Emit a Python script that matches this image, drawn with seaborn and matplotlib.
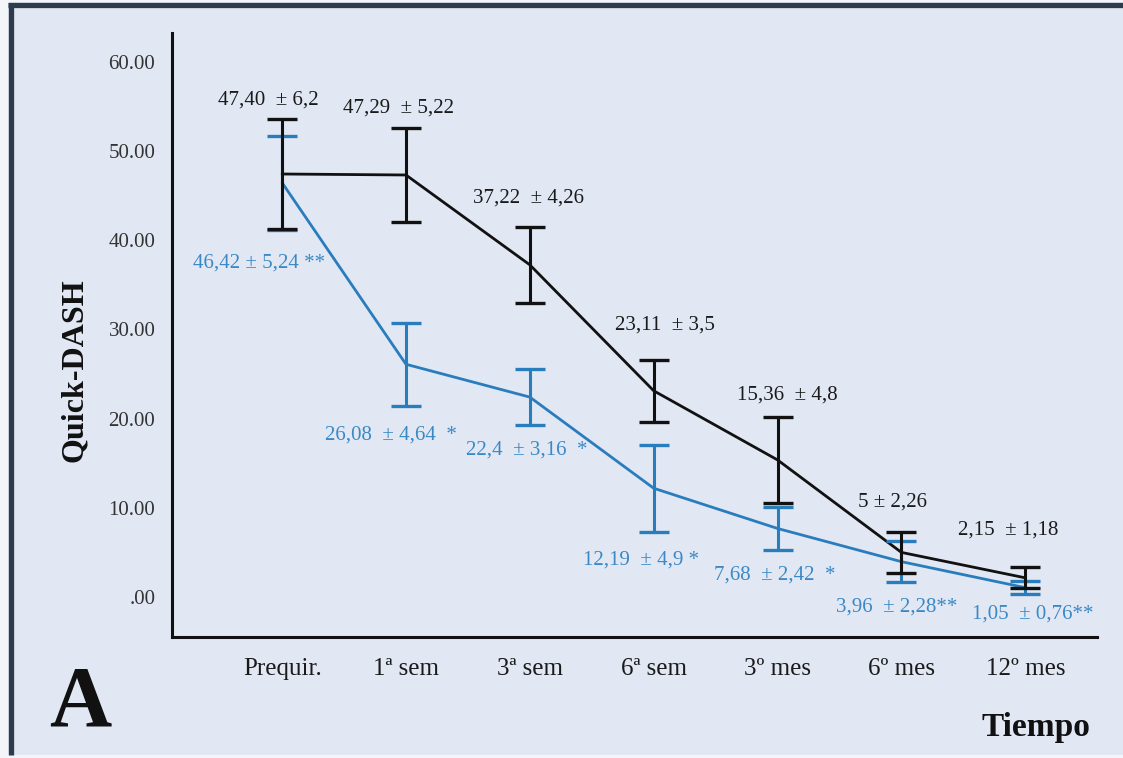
import numpy as np
import pandas as pd
import matplotlib
matplotlib.use("Agg")
import matplotlib.pyplot as plt
import seaborn as sns
from matplotlib.lines import Line2D
from matplotlib.patches import Rectangle

# ---- data ----
categories = ["Prequir.", "1ª sem", "3ª sem", "6ª sem", "3º mes", "6º mes", "12º mes"]
black_mean = [47.40, 47.29, 37.22, 23.11, 15.36, 5.00, 2.15]
black_sd = [6.2, 5.22, 4.26, 3.5, 4.8, 2.26, 1.18]
blue_mean = [46.42, 26.08, 22.4, 12.19, 7.68, 3.96, 1.05]
blue_sd = [5.24, 4.64, 3.16, 4.9, 2.42, 2.28, 0.76]
black_labels = ["47,40  ± 6,2", "47,29  ± 5,22", "37,22  ± 4,26", "23,11  ± 3,5",
                "15,36  ± 4,8", "5 ± 2,26", "2,15  ± 1,18"]
blue_labels = ["46,42 ± 5,24 **", "26,08  ± 4,64  *", "22,4  ± 3,16  *", "12,19  ± 4,9 *",
               "7,68  ± 2,42  *", "3,96  ± 2,28**", "1,05  ± 0,76**"]
y_ticks = [0, 10, 20, 30, 40, 50, 60]
y_ticklabels = [".00", "10.00", "20.00", "30.00", "40.00", "50.00", "60.00"]

# label offsets (pixels) relative to the error-bar caps
black_off = [(-14, 19), (-7, 20), (-1, 29), (11, 34), (10, 22), (-9, 30), (-17, 37)]
blue_off = [(-23, -34), (-15, -29), (-3, -25), (-13, -28), (-3, -25), (-5, -25), (7, -20)]

BG = "#E1E7F3"
OUTER = "#F3F5F9"
FRAME = "#2E3B4B"
BLACK = "#111111"
BLUE = "#2A7DBD"
BLUE_TXT = "#3A89C6"

sns.set_style("white")
plt.rcParams["font.family"] = ["Liberation Serif", "DejaVu Serif"]

W, H = 1123, 758
fig = plt.figure(figsize=(W / 100, H / 100), dpi=100, facecolor=OUTER)

# panel background and frame
fig.add_artist(Rectangle((8 / W, 3 / H), 1 - 8 / W, 1 - 5 / H, transform=fig.transFigure,
                         facecolor=BG, edgecolor="none", zorder=0))
fig.add_artist(Line2D([8 / W, 1], [1 - 4.5 / H, 1 - 4.5 / H], transform=fig.transFigure,
                      color=FRAME, linewidth=3.8, solid_capstyle="butt"))
fig.add_artist(Line2D([10.5 / W, 10.5 / W], [3 / H, 1 - 2.5 / H], transform=fig.transFigure,
                      color=FRAME, linewidth=3.8, solid_capstyle="butt"))

ax = fig.add_axes([172 / W, 1 - 637 / H, (1097 - 172) / W, (637 - 33) / H])
ax.set_facecolor("none")

pos = np.arange(len(categories))
df = pd.DataFrame({
    "x": np.concatenate([pos, pos]),
    "y": blue_mean + black_mean,
    "grupo": ["blue"] * len(pos) + ["black"] * len(pos),
})
sns.lineplot(data=df, x="x", y="y", hue="grupo", hue_order=["blue", "black"],
             palette={"blue": BLUE, "black": BLACK}, linewidth=2.0, legend=False, ax=ax,
             estimator=None, sort=False)

ax.errorbar(pos, blue_mean, yerr=blue_sd, fmt="none", ecolor=BLUE, elinewidth=2.2,
            capsize=10.5, capthick=2.4, zorder=3)
ax.errorbar(pos, black_mean, yerr=black_sd, fmt="none", ecolor=BLACK, elinewidth=2.2,
            capsize=10.5, capthick=2.4, zorder=4)

for i in range(len(pos)):
    ax.annotate(black_labels[i], xy=(pos[i], black_mean[i] + black_sd[i]),
                xytext=black_off[i], textcoords="offset pixels", ha="center", va="center",
                fontsize=15, color="#1a1a1a")
    ax.annotate(blue_labels[i], xy=(pos[i], blue_mean[i] - blue_sd[i]),
                xytext=blue_off[i], textcoords="offset pixels", ha="center", va="center",
                fontsize=15, color=BLUE_TXT)

ax.set_xlim(-0.889, 6.579)
ax.set_ylim(-4.48, 63.2)
ax.set_xticks(pos)
ax.set_xticklabels(categories, fontsize=18)
ax.set_yticks(y_ticks)
ax.set_yticklabels(y_ticklabels, fontsize=15)
ax.set_xlabel("")
ax.set_ylabel("")
for s in ["top", "right"]:
    ax.spines[s].set_visible(False)
for s in ["left", "bottom"]:
    ax.spines[s].set_linewidth(2.2)
    ax.spines[s].set_color(BLACK)
ax.tick_params(axis="y", direction="out", length=8.5, width=2.2, pad=3.5, colors=BLACK,
               labelcolor="#333333")
ax.tick_params(axis="x", direction="in", length=6.5, width=2.2, pad=15, colors=BLACK,
               labelcolor="#1a1a1a")

fig.text(74 / W, 1 - 370 / H, "Quick-DASH", rotation=90, ha="center", va="center",
         fontsize=23, fontweight="bold", color=BLACK)
fig.text(1090 / W, 1 - 736 / H, "Tiempo", ha="right", va="baseline",
         fontsize=24, fontweight="bold", color=BLACK)
fig.text(49 / W, 1 - 725 / H, "A", ha="left", va="baseline",
         fontsize=62, fontweight="bold", color=BLACK)

fig.savefig("out.png", dpi=100, facecolor=OUTER)
